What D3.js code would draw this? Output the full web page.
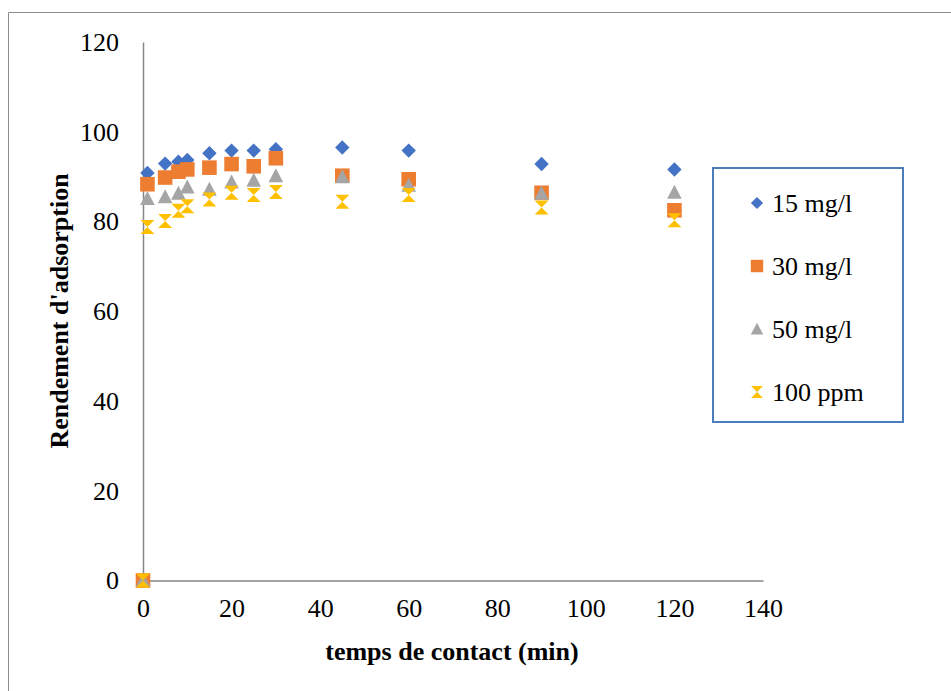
<!DOCTYPE html>
<html><head><meta charset="utf-8">
<script src="https://cdn.jsdelivr.net/npm/d3@7"></script>
<style>body{margin:0;background:#fff}svg{display:block}svg text{font-family:"Liberation Serif","Times New Roman",serif !important}</style>
</head><body>
<svg id="c" width="951" height="691"></svg>
<script>
const times = [0, 1, 5, 8, 10, 15, 20, 25, 30, 45, 60, 90, 120];
const s15  = [0, 90.8, 92.9, 93.3, 93.7, 95.2, 95.8, 95.8, 96.1, 96.5, 95.8, 92.8, 91.6];
const s30  = [0, 88.3, 89.8, 91.1, 91.6, 92.0, 92.8, 92.3, 94.1, 90.2, 89.4, 86.4, 82.5];
const s50  = [0, 85.1, 85.5, 86.3, 87.7, 87.2, 88.8, 89.2, 90.2, 90.0, 88.1, 86.3, 86.5];
const s100 = [0, 78.8, 80.1, 82.4, 83.4, 84.9, 86.4, 85.9, 86.6, 84.4, 85.9, 83.1, 80.3];
const seriesNames = ["15 mg/l", "30 mg/l", "50 mg/l", "100 ppm"];
const xTicks = [0, 20, 40, 60, 80, 100, 120, 140];
const yTicks = [0, 20, 40, 60, 80, 100, 120];
const xTitle = "temps de contact (min)";
const yTitle = "Rendement d'adsorption";

const colors = ["#4472C4", "#ED7D31", "#A5A5A5", "#FFC000"];
const shapes = ["diamond", "square", "triangle", "hourglass"];
const allSeries = [s15, s30, s50, s100];

const svg = d3.select("#c");
const font = "'Liberation Serif','Times New Roman',serif";

const x = d3.scaleLinear().domain([0, 140]).range([143, 763]);
const y = d3.scaleLinear().domain([0, 120]).range([580.5, 42]);

// outer border
svg.append("path").attr("d", "M8.5,700 V12.5 H960").attr("fill", "none")
  .attr("stroke", "#8c8c8c").attr("stroke-width", 1);

function markerPath(shape) {
  const p = d3.path();
  if (shape === "diamond") { const r = 7.2; p.moveTo(0,-r); p.lineTo(r,0); p.lineTo(0,r); p.lineTo(-r,0); p.closePath(); }
  else if (shape === "square") { const r = 7.3; p.rect(-r,-r,2*r,2*r); }
  else if (shape === "triangle") { p.moveTo(0,-7.5); p.lineTo(7.3,6.5); p.lineTo(-7.3,6.5); p.closePath(); }
  else { const w = 7, h = 7; p.moveTo(-w,-h); p.lineTo(w,-h); p.lineTo(0,0); p.lineTo(w,h); p.lineTo(-w,h); p.lineTo(0,0); p.closePath(); }
  return p.toString();
}

// axes
const xAxis = d3.axisBottom(x).tickValues(xTicks).tickSize(0).tickPadding(18);
const yAxis = d3.axisLeft(y).tickValues(yTicks).tickSize(0).tickPadding(24);
const gx = svg.append("g").attr("transform", `translate(0,${y(0)})`).call(xAxis);
const gy = svg.append("g").attr("transform", `translate(${x(0)},0)`).call(yAxis);
[gx, gy].forEach(g => {
  g.attr("font-family", font).attr("font-size", 26);
  g.select(".domain").attr("stroke", "#868686").attr("stroke-width", 1.5);
  g.selectAll("text").style("font-family", font).style("font-size", "26px").attr("fill", "#000");
});
gx.selectAll("text").attr("dy", "0.71em");

// series
allSeries.forEach((vals, i) => {
  svg.append("g").selectAll("path").data(times.map((t, k) => [t, vals[k]])).join("path")
    .attr("d", markerPath(shapes[i]))
    .attr("transform", d => `translate(${x(d[0])},${y(d[1])})`)
    .attr("fill", colors[i]);
});

// axis titles
svg.append("text").attr("x", 452).attr("y", 660).attr("text-anchor", "middle")
  .style("font-family", font).style("font-size", "26px").attr("font-weight", "bold").text(xTitle);
svg.append("text").attr("transform", "translate(68,311) rotate(-90)").attr("text-anchor", "middle")
  .style("font-family", font).style("font-size", "26px").attr("font-weight", "bold").text(yTitle);

// legend
const lg = svg.append("g");
lg.append("rect").attr("x", 713).attr("y", 168).attr("width", 190).attr("height", 254)
  .attr("fill", "#fff").attr("stroke", "#4A7EBB").attr("stroke-width", 2);
const ly = d3.scalePoint().domain(seriesNames).range([203, 392]);
seriesNames.forEach((n, i) => {
  lg.append("path").attr("d", markerPath(shapes[i]))
    .attr("transform", `translate(757,${ly(n)}) scale(0.85)`).attr("fill", colors[i]);
  lg.append("text").attr("x", 772).attr("y", ly(n)).attr("dy", "0.35em")
    .style("font-family", font).style("font-size", "26px").text(n);
});
</script>
</body></html>
